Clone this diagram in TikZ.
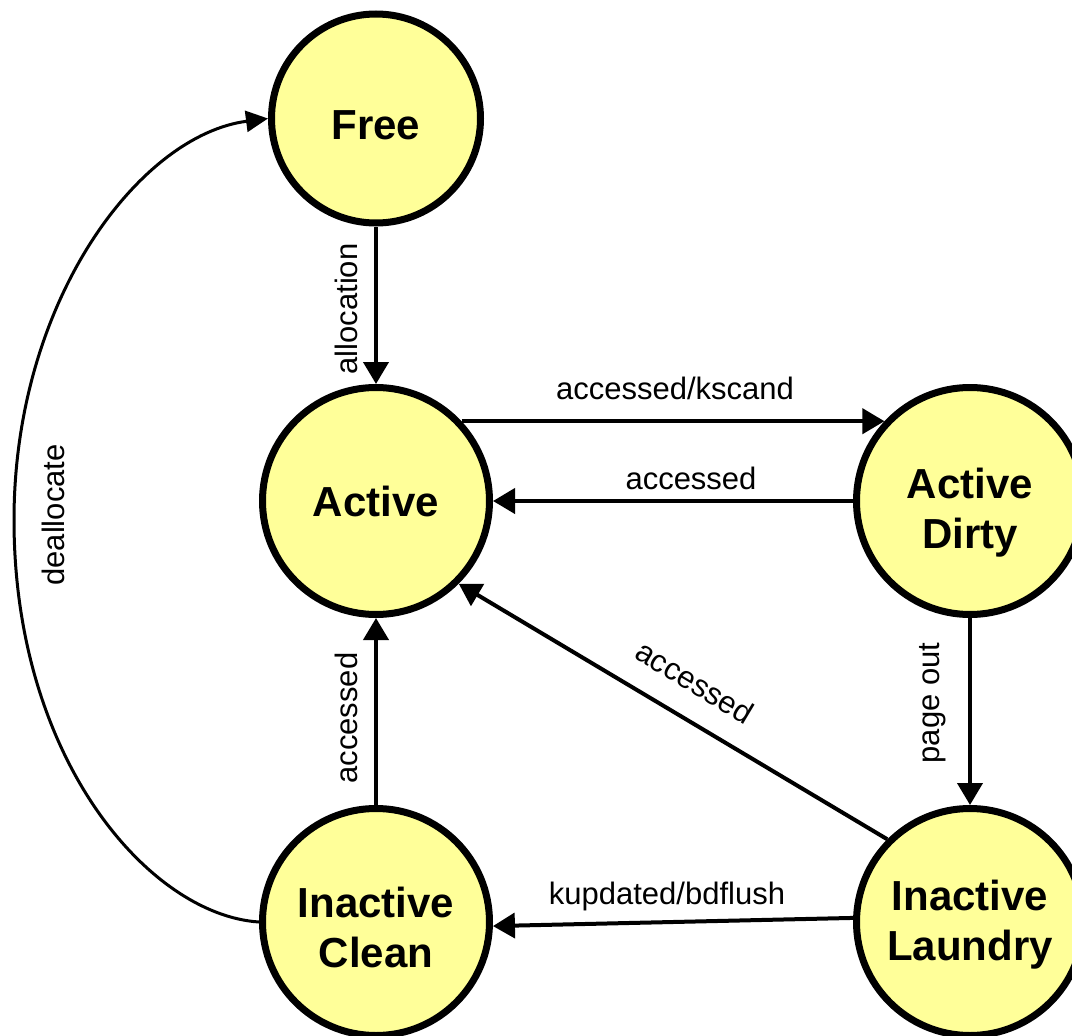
\documentclass[tikz,border=0pt]{standalone}
\usepackage{fontspec}
\setmainfont{Liberation Sans}
\usetikzlibrary{arrows.meta}
\definecolor{stfill}{RGB}{255,255,153}
\begin{document}
\begin{tikzpicture}[x=1pt,y=-1pt,
  state/.style={circle, draw=black, line width=7pt, fill=stfill, inner sep=0pt,
    minimum size=227pt, font=\bfseries\fontsize{42}{50}\selectfont, align=center},
  edge/.style={line width=4pt, -{Triangle[width=25pt,length=22pt]}},
  thinedge/.style={line width=3pt, -{Triangle[width=21pt,length=22pt]}},
  lbl/.style={font=\fontsize{31}{37}\selectfont, inner sep=0pt}]
\useasboundingbox (0,0) rectangle (1072,1036);
\clip (0,0) rectangle (1072,1036);

% states
\node[state, minimum size=209pt] (free) at (376,118.5) {\rule{0pt}{43pt}Free};
\node[state] (active) at (376,501) {Active};
\node[state] (dirty) at (970,501) {\rule{0pt}{53pt}Active\\Dirty};
\node[state] (clean) at (376,922) {\rule{0pt}{42pt}Inactive\\Clean};
\node[state] (laundry) at (970,922) {\rule{0pt}{35pt}Inactive\\Laundry};

% connectors
\draw[edge] (free) -- (active);
\draw[edge] (active.43) -- (dirty.137);
\draw[edge] (dirty.west) -- (active.east);
\draw[edge] (dirty) -- (laundry);
\draw[edge] (laundry.135) -- (active.-45);
\draw[edge] (laundry.178) -- (clean.-2.5);
\draw[edge] (clean) -- (active);
\coordinate (dleft) at (14,520);
\draw[thinedge] (clean.west) .. controls (150,915) and (14,760) .. (dleft)
  .. controls (14,300) and (140,135) .. (free.west);

% labels
\node[lbl, rotate=90] (lalloc) at (346,309) {allocation};
\node[lbl] (lkscand) at (675,388) {accessed/kscand};
\node[lbl] (lacctop) at (691,478) {accessed};
\node[lbl, rotate=-31] (laccdiag) at (695,682) {accessed};
\node[lbl, rotate=90] (laccleft) at (346,718) {accessed};
\node[lbl, rotate=90] (lpage) at (933,703) {page out};
\node[lbl] (lkup) at (667,896) {kupdated/bdflush};
\node[lbl, rotate=90] (ldealloc) at (53,515) {deallocate};
\end{tikzpicture}
\end{document}
